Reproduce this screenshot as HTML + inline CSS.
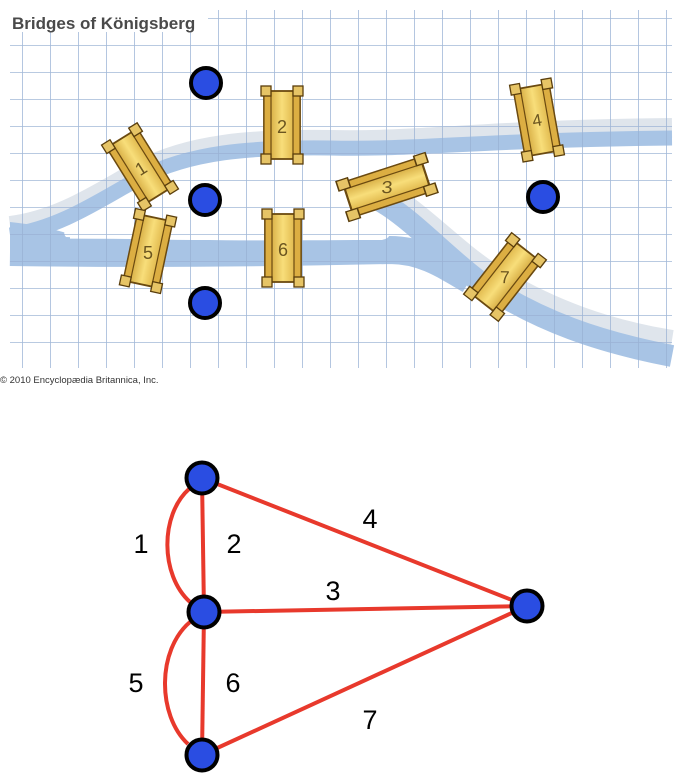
<!DOCTYPE html>
<html><head><meta charset="utf-8"><style>
html,body{margin:0;padding:0;background:#fff;width:678px;height:780px;overflow:hidden}
svg{display:block}
</style></head><body>
<svg width="678" height="780" viewBox="0 0 678 780" xmlns="http://www.w3.org/2000/svg">
<defs>
<pattern id="grid" width="28" height="27" patternUnits="userSpaceOnUse" x="22" y="18">
<path d="M0 0H28M0 0V27" fill="none" stroke="#98b0d3" stroke-width="1.6"/>
</pattern>
<linearGradient id="gold" x1="0" x2="1" y1="0" y2="0">
<stop offset="0" stop-color="#c7962a"/><stop offset="0.5" stop-color="#f8de7a"/><stop offset="1" stop-color="#d4a535"/>
</linearGradient>
<g id="br">
<rect x="-18" y="-34" width="36" height="68" fill="url(#gold)" stroke="#6b4a10" stroke-width="1.8"/>
<rect x="-18" y="-34" width="7" height="68" fill="#dcae42" stroke="#6b4a10" stroke-width="1.2"/>
<rect x="11" y="-34" width="7" height="68" fill="#dcae42" stroke="#6b4a10" stroke-width="1.2"/>
<rect x="-21" y="-39" width="10" height="10" fill="#e6c466" stroke="#5a3e0c" stroke-width="1.3"/>
<rect x="11" y="-39" width="10" height="10" fill="#e6c466" stroke="#5a3e0c" stroke-width="1.3"/>
<rect x="-21" y="29" width="10" height="10" fill="#e6c466" stroke="#5a3e0c" stroke-width="1.3"/>
<rect x="11" y="29" width="10" height="10" fill="#e6c466" stroke="#5a3e0c" stroke-width="1.3"/>
</g>
</defs>
<rect x="10" y="10" width="662" height="358" fill="#fff"/>
<!-- shadows -->
<g fill="none" stroke="#dfe5ec">
<path d="M10 226 C60 220 100 192 140 170 C190 144 250 139 330 140 C420 142 480 130 672 128" stroke-width="20"/>
<path d="M380 188 C420 210 450 245 490 272 C550 310 610 330 672 340" stroke-width="20"/>
</g>
<!-- rivers -->
<g fill="none" stroke="#a8c4e5">
<path d="M10 235 C60 228 100 200 140 178 C190 152 250 147 330 148 C420 150 480 140 672 138" stroke-width="15"/>
<path d="M10 252 C150 254 300 252 390 250 C420 250 440 262 470 280" stroke-width="28"/>
<path d="M372 196 C410 216 440 252 480 282 C540 322 600 342 672 356" stroke-width="22"/>
</g>
<path d="M10 222 L10 266 L70 266 L70 234 C50 228 30 224 10 222Z" fill="#a8c4e5"/>
<!-- island -->
<path d="M66 237 C58 228 78 222 110 223 C200 226 300 226 378 228 C392 232 392 238 382 240 C300 240 200 242 66 237Z" fill="#fff"/>
<rect x="10" y="10" width="662" height="358" fill="url(#grid)" opacity="0.9"/>
<!-- bridges -->
<g transform="translate(140,167) rotate(-32)"><use href="#br"/><text x="0" y="8" font-family="Liberation Sans,sans-serif" font-size="18" fill="#6b5520" text-anchor="middle">1</text></g>
<g transform="translate(282,125)"><use href="#br"/><text x="0" y="8" font-family="Liberation Sans,sans-serif" font-size="18" fill="#6b5520" text-anchor="middle">2</text></g>
<g transform="translate(387,187) rotate(72) scale(1,1.2)"><use href="#br"/><text x="0" y="6" transform="rotate(-72)" font-family="Liberation Sans,sans-serif" font-size="17" fill="#6b5520" text-anchor="middle">3</text></g>
<g transform="translate(537,120) rotate(-10)"><use href="#br"/><text x="0" y="6" font-family="Liberation Sans,sans-serif" font-size="17" fill="#6b5520" text-anchor="middle">4</text></g>
<g transform="translate(148,251) rotate(12)"><use href="#br"/><text x="0" y="8" transform="rotate(-12)" font-family="Liberation Sans,sans-serif" font-size="18" fill="#6b5520" text-anchor="middle">5</text></g>
<g transform="translate(283,248)"><use href="#br"/><text x="0" y="8" font-family="Liberation Sans,sans-serif" font-size="18" fill="#6b5520" text-anchor="middle">6</text></g>
<g transform="translate(505,277) rotate(-142) scale(1.05,1)"><use href="#br"/><text x="0" y="6" transform="rotate(142)" font-family="Liberation Sans,sans-serif" font-size="17" fill="#6b5520" text-anchor="middle">7</text></g>
<!-- map dots -->
<g fill="#2a4de2" stroke="#000" stroke-width="4">
<circle cx="206" cy="83" r="15"/><circle cx="205" cy="200" r="15"/><circle cx="205" cy="303" r="15"/><circle cx="543" cy="197" r="15"/>
</g>
<rect x="8" y="6" width="200" height="26" fill="#fff"/>
<text x="12" y="29" font-family="Liberation Sans,sans-serif" font-size="17" font-weight="bold" fill="#4a4a4a">Bridges of Königsberg</text>
<rect x="0" y="370" width="678" height="16" fill="#fff"/>
<text x="0" y="383" font-family="Liberation Sans,sans-serif" font-size="9.5" fill="#333">© 2010 Encyclopædia Britannica, Inc.</text>
<!-- graph -->
<g stroke="#e8392c" stroke-width="4" fill="none">
<line x1="202" y1="478" x2="204" y2="612"/>
<line x1="204" y1="612" x2="202" y2="755"/>
<line x1="202" y1="478" x2="527" y2="606"/>
<line x1="204" y1="612" x2="527" y2="606"/>
<line x1="202" y1="755" x2="527" y2="606"/>
<path d="M189 489 C160 515 160 575 190 602"/>
<path d="M190 622 C157 650 157 715 188 744"/>
</g>
<g fill="#2a4de2" stroke="#000" stroke-width="4">
<circle cx="202" cy="478" r="15.5"/><circle cx="204" cy="612" r="15.5"/><circle cx="527" cy="606" r="15.5"/><circle cx="202" cy="755" r="15.5"/>
</g>
<g font-family="Liberation Sans,sans-serif" font-size="27" fill="#000" text-anchor="middle">
<text x="141" y="553">1</text><text x="234" y="553">2</text><text x="370" y="528">4</text><text x="333" y="600">3</text>
<text x="136" y="692">5</text><text x="233" y="692">6</text><text x="370" y="729">7</text>
</g>
</svg>
</body></html>
